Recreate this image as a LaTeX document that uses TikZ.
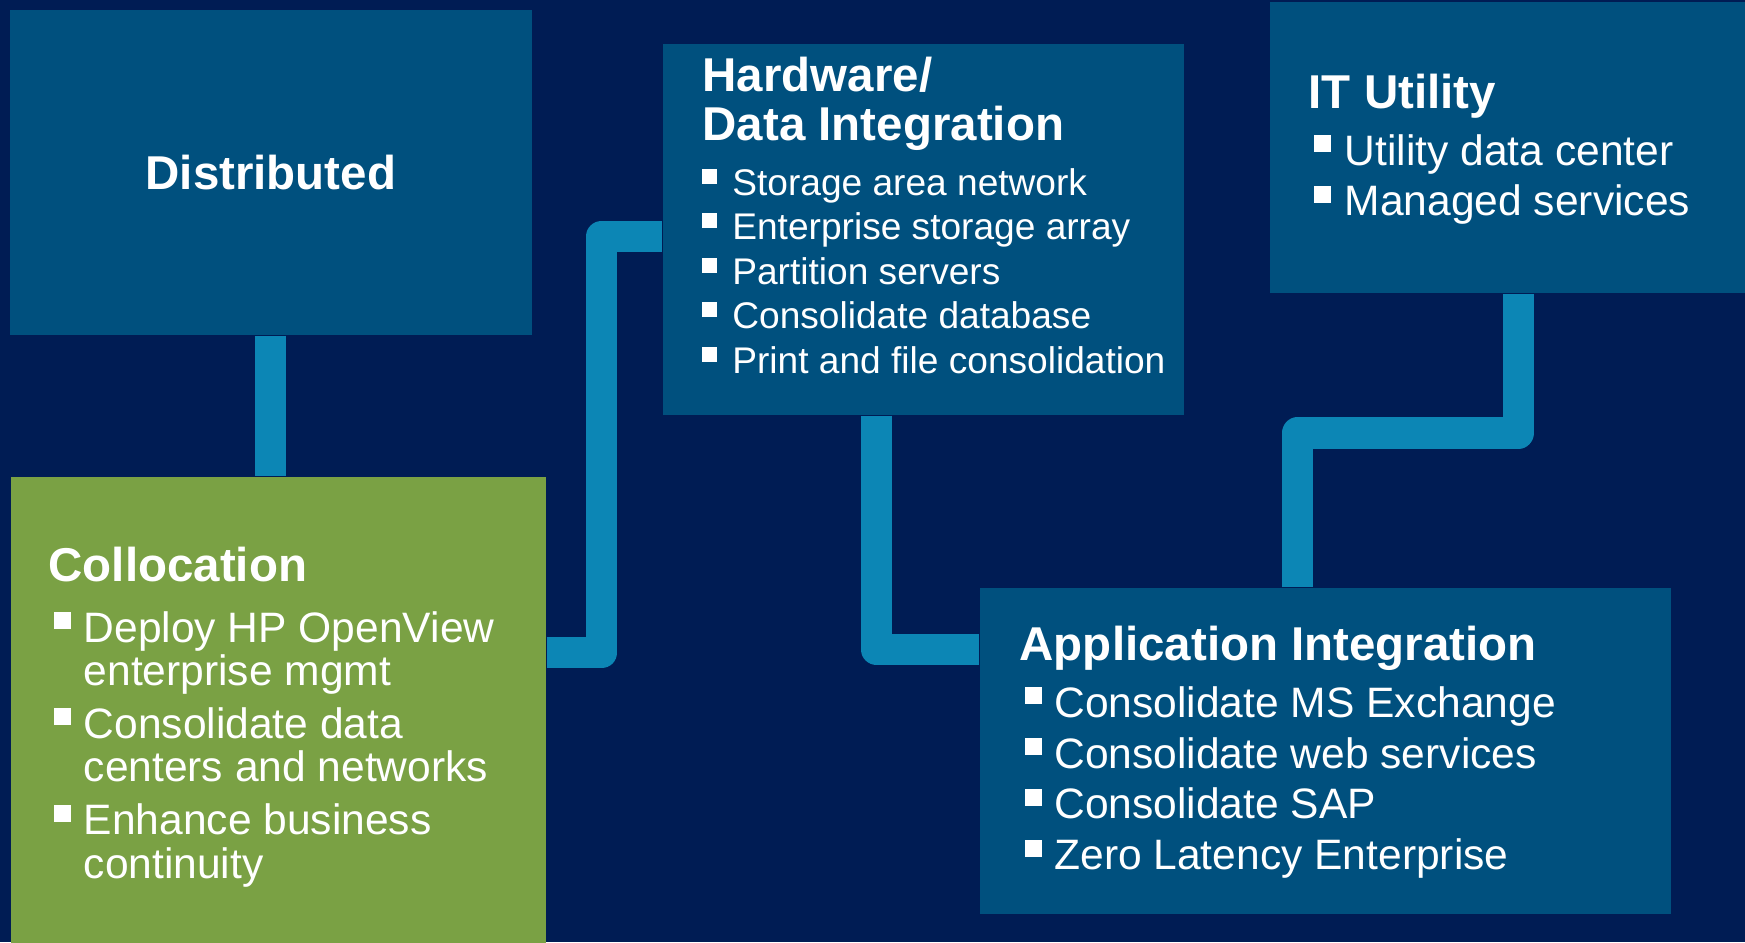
\documentclass[tikz,border=0pt]{standalone}
\usepackage{fontspec}
\setmainfont{Liberation Sans}
\usepackage{tikz}
\definecolor{navy}{RGB}{0,28,84}
\definecolor{boxblue}{RGB}{0,80,126}
\definecolor{linkblue}{RGB}{12,134,181}
\definecolor{leafgreen}{RGB}{122,161,68}
\newcommand{\sqb}{\rule[0.31em]{0.4em}{0.4em}}
\newcommand{\ttl}{\fontsize{13.5}{13.75}\selectfont\bfseries}
\newcommand{\itm}{\fontsize{12.1}{14.5}\selectfont}

\begin{document}
\begin{tikzpicture}[x=0.01cm,y=-0.01cm]
\tikzstyle{every node}+=[inner sep=0pt, text=white]
\tikzstyle{box}=[fill=boxblue, anchor=north west]
\tikzstyle{link}=[draw=linkblue, line width=0.31cm, line join=round]
\fill [navy] (0,0) rectangle (1745,942);
\useasboundingbox (0,0) rectangle (1745,942);
\node [box, minimum width=5.22cm, minimum height=3.25cm] (dist) at (9,9) {};
\node [box, fill=leafgreen, minimum width=5.35cm, minimum height=4.66cm] (coll) at (10,476) {};
\node [box, minimum width=5.21cm, minimum height=3.71cm] (hw) at (662,43) {};
\node [box, minimum width=6.91cm, minimum height=3.26cm] (app) at (979,587) {};
\node [box, minimum width=4.76cm, minimum height=2.91cm] (it) at (1269,1) {};
\draw [link] (dist.south) -- (dist.south |- coll.north);
\draw [link] ([yshift=0.57cm]coll.east) -- ++(55,0) |- ([yshift=-0.07cm]hw.west);
\draw [link] ([xshift=-0.465cm]hw.south) |- ([yshift=1.01cm]app.west);
\draw [link] ([xshift=-0.28cm]app.north) -- ++(0,-154) -| ([xshift=0.105cm]it.south);
\node [font=\ttl] (disttitle) at (dist) {Distributed};
\node [font=\ttl, anchor=base west] (colltitle) at (48,581) {Collocation};
\node [font=\itm, anchor=base west] (colllist) at (53,642) {\fontsize{12.1}{11.95}\selectfont
\begin{tabular}[t]{@{}l@{\hspace{3.7pt}}l@{}}
\sqb & Deploy HP OpenView\\
 & enterprise mgmt\\[2.7pt]
\sqb & Consolidate data\\
 & centers and networks\\[2.7pt]
\sqb & Enhance business\\
 & continuity
\end{tabular}};
\node [font=\ttl, anchor=base west, align=left] (hwtitle) at (702,140) {Hardware/\\Data Integration};
\node [font=\fontsize{10.55}{12.66}\selectfont, anchor=base west] (hwlist) at (701,195) {\begin{tabular}[t]{@{}l@{\hspace{4.5pt}}l@{}}
\sqb & Storage area network\\
\sqb & Enterprise storage array\\
\sqb & Partition servers\\
\sqb & Consolidate database\\
\sqb & Print and file consolidation
\end{tabular}};
\node [font=\ttl, anchor=base west] (apptitle) at (1019,660) {Application Integration};
\node [font=\itm, anchor=base west] (applist) at (1024,717) {\begin{tabular}[t]{@{}l@{\hspace{3.6pt}}l@{}}
\sqb & Consolidate MS Exchange\\
\sqb & Consolidate web services\\
\sqb & Consolidate SAP\\
\sqb & Zero Latency Enterprise
\end{tabular}};
\node [font=\ttl, anchor=base west] (ittitle) at (1308,108) {IT Utility};
\node [font=\itm, anchor=base west] (itlist) at (1313,165) {\begin{tabular}[t]{@{}l@{\hspace{4pt}}l@{}}
\sqb & Utility data center\\
\sqb & Managed services
\end{tabular}};
\end{tikzpicture}
\end{document}
